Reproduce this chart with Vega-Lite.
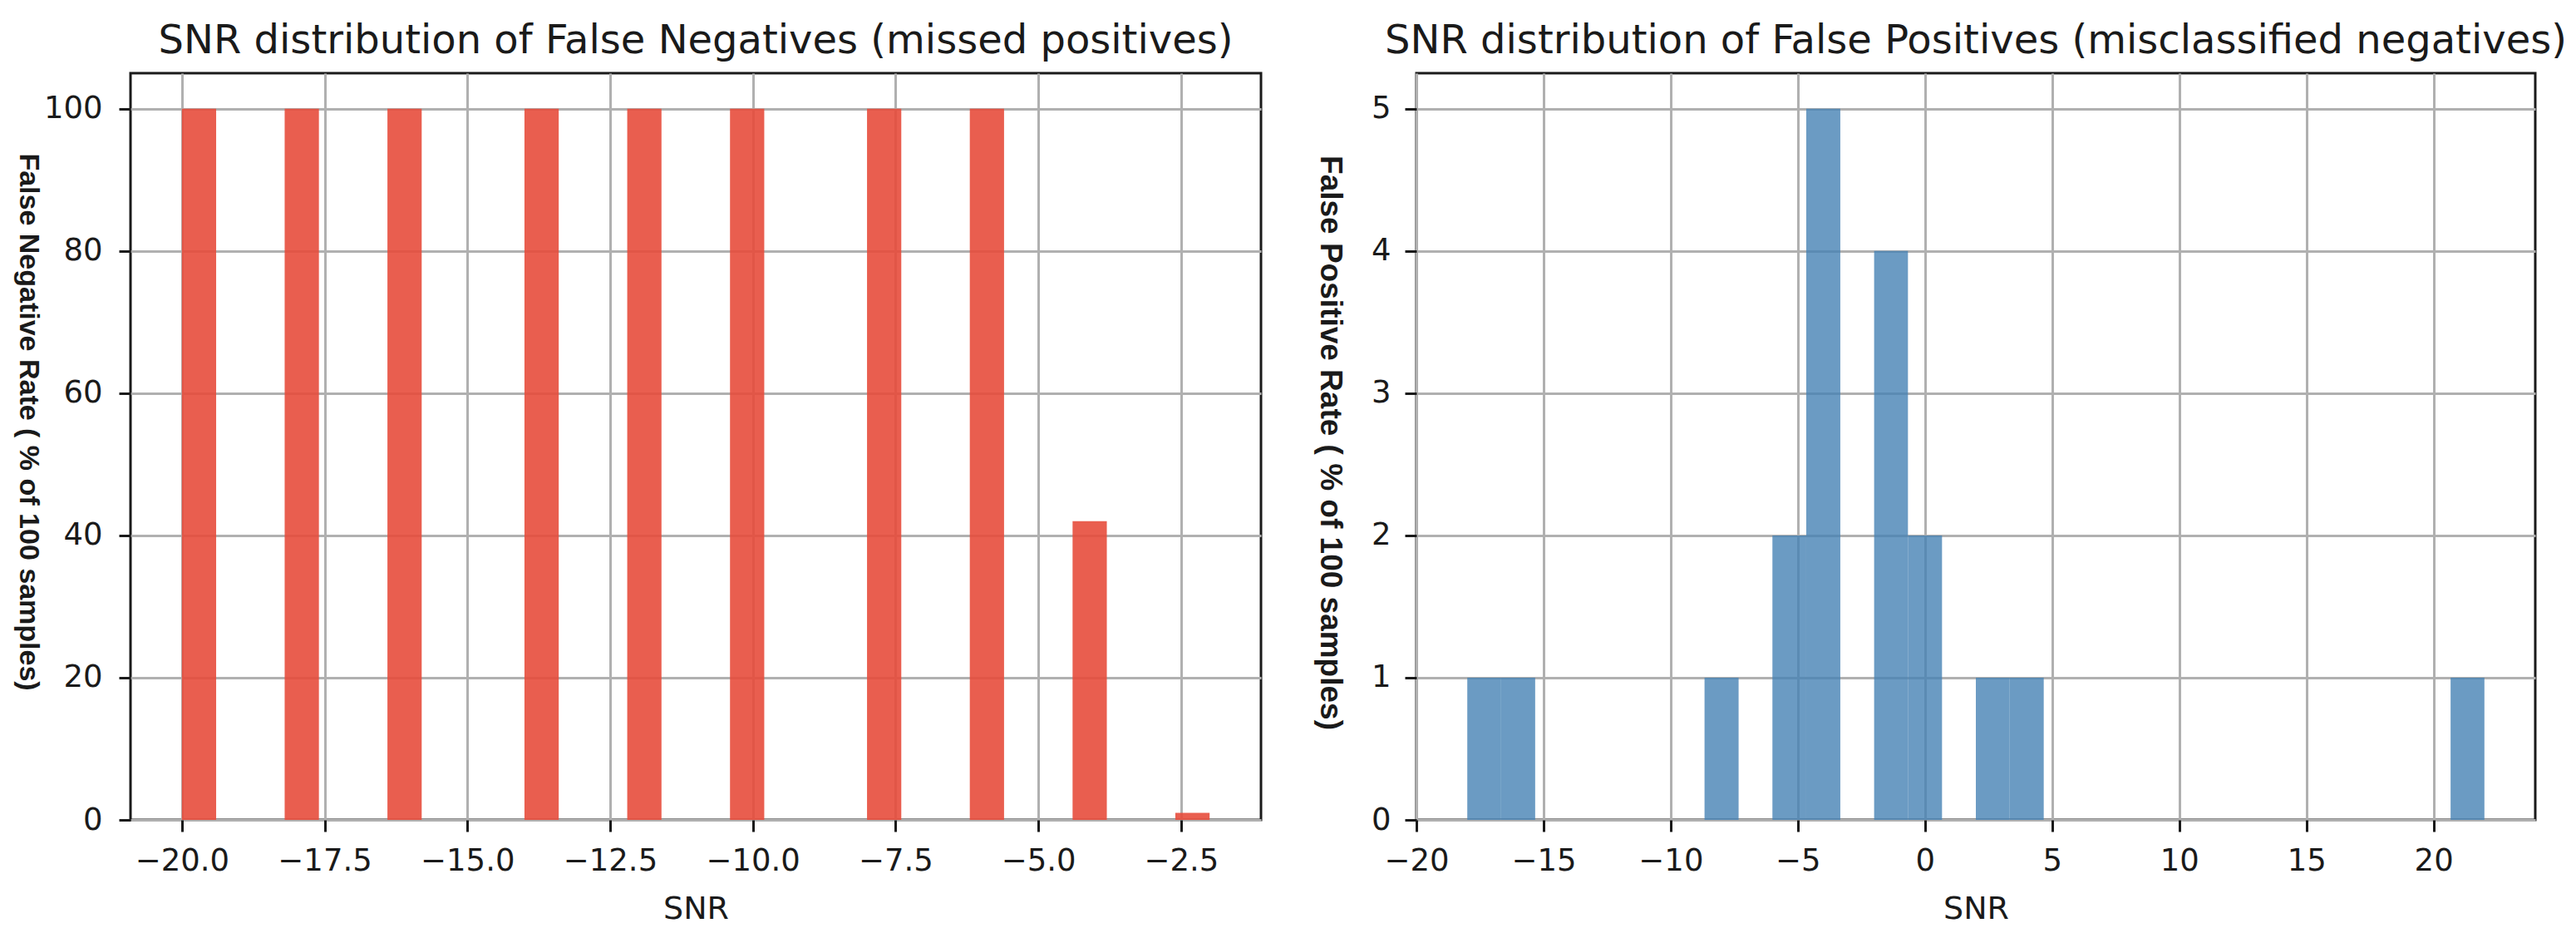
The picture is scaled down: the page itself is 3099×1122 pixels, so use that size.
{
  "$schema": "https://vega.github.io/schema/vega-lite/v6.json",
  "background": "white",
  "padding": {"left": 14, "top": 24, "right": 0, "bottom": 0},
  "bounds": "flush",
  "spacing": 187,
  "datasets": {
    "fn": [
      {"start": -20.0, "end": -19.4, "rate": 100},
      {"start": -18.2, "end": -17.6, "rate": 100},
      {"start": -16.4, "end": -15.8, "rate": 100},
      {"start": -14.0, "end": -13.4, "rate": 100},
      {"start": -12.2, "end": -11.6, "rate": 100},
      {"start": -10.4, "end": -9.8, "rate": 100},
      {"start": -8.0, "end": -7.4, "rate": 100},
      {"start": -6.2, "end": -5.6, "rate": 100},
      {"start": -4.4, "end": -3.8, "rate": 42},
      {"start": -2.6, "end": -2.0, "rate": 1}
    ],
    "fp": [
      {"start": -18.0, "end": -16.67, "rate": 1},
      {"start": -16.67, "end": -15.33, "rate": 1},
      {"start": -8.67, "end": -7.33, "rate": 1},
      {"start": -6.0, "end": -4.67, "rate": 2},
      {"start": -4.67, "end": -3.33, "rate": 5},
      {"start": -2.0, "end": -0.67, "rate": 4},
      {"start": -0.67, "end": 0.67, "rate": 2},
      {"start": 2.0, "end": 3.33, "rate": 1},
      {"start": 3.33, "end": 4.67, "rate": 1},
      {"start": 20.67, "end": 22.0, "rate": 1}
    ]
  },
  "config": {
    "view": {"stroke": "#1a1a1a", "strokeWidth": 3},
    "axis": {
      "domain": false,
      "grid": true,
      "gridColor": "#b0b0b0",
      "gridWidth": 3,
      "ticks": true,
      "tickColor": "#1a1a1a",
      "tickWidth": 3,
      "tickSize": 14,
      "labelFont": "DejaVu Sans",
      "labelFontSize": 37,
      "labelColor": "#1a1a1a",
      "labelFlush": false,
      "labelOverlap": false,
      "titleFont": "DejaVu Sans",
      "titleFontSize": 38,
      "titleFontWeight": "normal",
      "titleColor": "#1a1a1a"
    },
    "axisX": {"labelPadding": 17, "titlePadding": 21},
    "axisY": {
      "labelPadding": 20,
      "titleFont": "Liberation Sans",
      "titleFontWeight": "bold",
      "titleAngle": 90,
      "titleAlign": "center",
      "titleBaseline": "middle"
    },
    "title": {
      "font": "DejaVu Sans",
      "fontSize": 48,
      "fontWeight": "normal",
      "color": "#1a1a1a",
      "offset": 14,
      "baseline": "alphabetic"
    }
  },
  "hconcat": [
    {
      "title": "SNR distribution of False Negatives (missed positives)",
      "width": 1360,
      "height": 898,
      "data": {"name": "fn"},
      "mark": {"type": "bar", "color": "#e74c3c", "opacity": 0.9},
      "encoding": {
        "x": {
          "field": "start",
          "type": "quantitative",
          "scale": {"domain": [-20.9, -1.1], "nice": false, "zero": false},
          "axis": {"title": "SNR", "values": [-20, -17.5, -15, -12.5, -10, -7.5, -5, -2.5], "format": ".1f"}
        },
        "x2": {"field": "end"},
        "y": {
          "field": "rate",
          "type": "quantitative",
          "scale": {"domain": [0, 105], "nice": false},
          "axis": {
            "title": "False Negative Rate ( % of 100 samples)",
            "values": [0, 20, 40, 60, 80, 100],
            "titleFontSize": 34,
            "titleX": -124,
            "titleY": 419
          }
        },
        "y2": {"datum": 0}
      }
    },
    {
      "title": "SNR distribution of False Positives (misclassified negatives)",
      "width": 1346,
      "height": 898,
      "data": {"name": "fp"},
      "mark": {"type": "bar", "color": "#4682b4", "opacity": 0.8},
      "encoding": {
        "x": {
          "field": "start",
          "type": "quantitative",
          "scale": {"domain": [-20, 24], "nice": false, "zero": false},
          "axis": {"title": "SNR", "values": [-20, -15, -10, -5, 0, 5, 10, 15, 20], "format": "d"}
        },
        "x2": {"field": "end"},
        "y": {
          "field": "rate",
          "type": "quantitative",
          "scale": {"domain": [0, 5.25], "nice": false},
          "axis": {
            "title": "False Positive Rate ( % of 100 samples)",
            "values": [0, 1, 2, 3, 4, 5],
            "labelPadding": 17,
            "titleFontSize": 37,
            "titleX": -105,
            "titleY": 444
          }
        },
        "y2": {"datum": 0}
      }
    }
  ]
}
